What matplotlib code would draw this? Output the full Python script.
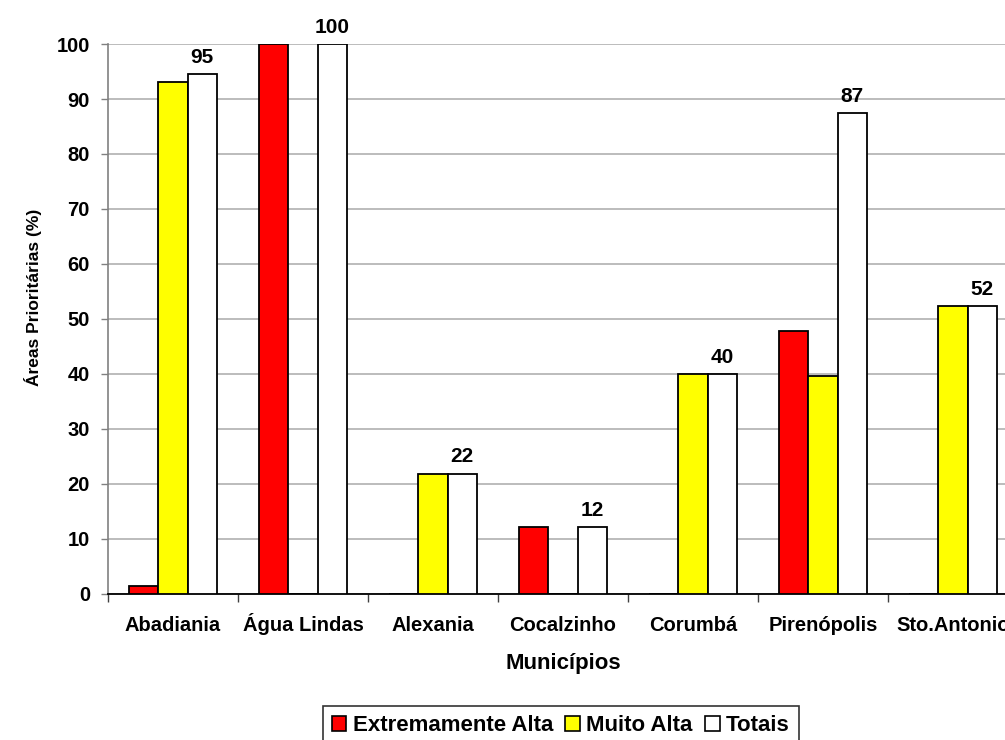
import matplotlib
matplotlib.use("Agg")
import matplotlib.pyplot as plt
import numpy as np
from matplotlib.patches import Patch

plt.rcParams['font.family'] = ['Liberation Sans', 'DejaVu Sans']
plt.rcParams['font.weight'] = 'bold'

municipios = ["Abadiania", "Água Lindas", "Alexania", "Cocalzinho",
              "Corumbá", "Pirenópolis", "Sto.Antonio"]
extremamente_alta = [1.5, 100.0, 0.0, 12.2, 0.0, 47.9, 0.0]
muito_alta = [93.1, 0.0, 21.9, 0.0, 40.0, 39.6, 52.3]
totais = [94.6, 100.0, 21.9, 12.2, 40.0, 87.4, 52.3]

series_names = ["Extremamente Alta", "Muito Alta", "Totais"]
series_colors = ["#FF0000", "#FFFF00", "#FFFFFF"]

fig = plt.figure(figsize=(10.05, 7.4), dpi=100)
ax = fig.add_axes([0.10746, 0.19730, 0.90547, 0.74324])

x = np.arange(len(municipios))
w = 0.225
for k, (vals, color) in enumerate(zip([extremamente_alta, muito_alta, totais], series_colors)):
    bars = ax.bar(x + (k - 1) * w, vals, width=w, color=color,
                  edgecolor="black", linewidth=1.3, zorder=3)
    if k == 2:
        for b, v in zip(bars, vals):
            ax.annotate(f"{v:.0f}", (b.get_x() + b.get_width() / 2, v),
                        xytext=(0, 8), textcoords="offset points",
                        ha="center", va="baseline", fontsize=15,
                        fontweight="bold", zorder=4)

ax.set_xlim(-0.5, len(municipios) - 0.5)
ax.set_ylim(0, 100)
ax.set_yticks(np.arange(0, 101, 10))
ax.yaxis.grid(True, color="#b0b0b0", linewidth=1.2, zorder=0)
ax.set_axisbelow(True)

# tick marks at category boundaries, labels at the centres
ax.set_xticks(np.arange(-0.5, len(municipios), 1.0))
ax.set_xticklabels([])
ax.set_xticks(x, minor=True)
ax.set_xticklabels(municipios, minor=True, fontsize=14.5, fontweight="bold")
for lbl in ax.get_xticklabels(minor=True):
    lbl.set_verticalalignment("baseline")
ax.tick_params(axis="x", which="major", length=6, width=1, color="#404040", direction="out")
ax.tick_params(axis="x", which="minor", length=0, pad=27)
ax.tick_params(axis="y", length=5, width=1, color="#808080", labelsize=14.5, pad=8)
for lbl in ax.get_yticklabels():
    lbl.set_fontweight("bold")

for side in ("top", "right"):
    ax.spines[side].set_visible(False)
ax.spines["left"].set_color("#808080")
ax.spines["left"].set_linewidth(1.2)
ax.spines["bottom"].set_color("black")
ax.spines["bottom"].set_linewidth(1.3)

ax.set_ylabel("Áreas Prioritárias (%)", fontsize=12.5, fontweight="bold")
ax.yaxis.set_label_coords(-0.0824, 0.54)
ax.yaxis.label.set_verticalalignment("center")
ax.set_xlabel("Municípios", fontsize=16, fontweight="bold")
ax.xaxis.set_label_coords(0.5, -0.1255)
ax.xaxis.label.set_verticalalignment("center")

handles = [Patch(facecolor=c, edgecolor="black", linewidth=1.2) for c in series_colors]
leg = fig.legend(handles, series_names, loc="upper center",
                 bbox_to_anchor=(0.558, 1 - 706 / 740), ncol=3, frameon=True,
                 fancybox=False, shadow=False,
                 handlelength=0.65, handleheight=0.65, handletextpad=0.3,
                 columnspacing=0.55, borderpad=0.4, borderaxespad=0.0,
                 prop={"weight": "bold", "size": 16})
leg.get_frame().set_edgecolor("black")
leg.get_frame().set_linewidth(1.2)

fig.savefig("out.png", dpi=100)
